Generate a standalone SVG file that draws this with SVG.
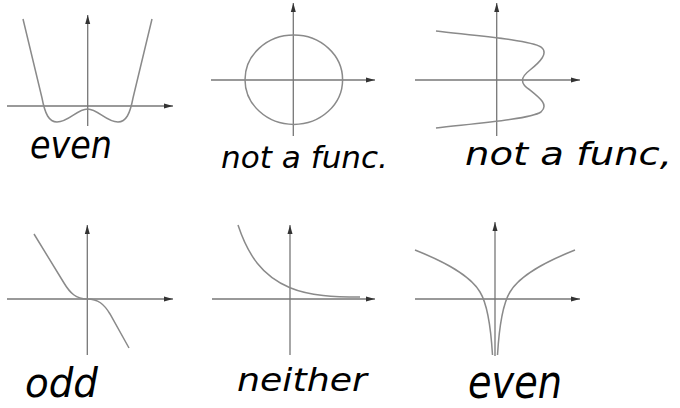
<svg xmlns="http://www.w3.org/2000/svg" width="680" height="408" viewBox="0 0 680 408">
<style>
.ax{stroke:#777;stroke-width:1.3;fill:none}
.cv{stroke:#8a8a8a;stroke-width:1.5;fill:none}
.lb{font-family:"DejaVu Sans","Liberation Sans",sans-serif;font-style:oblique;fill:#000}
</style>
<defs>
<marker id="ah" markerWidth="9" markerHeight="6" refX="9" refY="3" orient="auto" markerUnits="userSpaceOnUse">
<path d="M0,0.5 L9,3 L0,5.5 z" fill="#333"/>
</marker>
</defs>
<rect width="680" height="408" fill="#fff"/>
<g id="g1">
<line class="ax" x1="7" y1="106" x2="173" y2="106" marker-end="url(#ah)"/>
<line class="ax" x1="87.7" y1="126" x2="87.7" y2="15" marker-end="url(#ah)"/>
<path class="cv" d="M23,19 L42,98 C45,114 49,122 57,122 C69,122 77,109 87.5,109 C98,109 106,122 118,122 C126,122 130,114 133,98 L152,19"/>
<text class="lb" x="30" y="158" font-size="38" textLength="82" lengthAdjust="spacingAndGlyphs">even</text>
</g>
<g id="g2">
<line class="ax" x1="211" y1="80" x2="375" y2="80" marker-end="url(#ah)"/>
<line class="ax" x1="293.3" y1="136" x2="293.3" y2="3" marker-end="url(#ah)"/>
<ellipse class="cv" cx="293.8" cy="79.7" rx="48.8" ry="44.7"/>
<text class="lb" x="221" y="168" font-size="31" textLength="167" lengthAdjust="spacingAndGlyphs">not a func.</text>
</g>
<g id="g3">
<line class="ax" x1="415" y1="80" x2="580" y2="80" marker-end="url(#ah)"/>
<line class="ax" x1="496.7" y1="136" x2="496.7" y2="3" marker-end="url(#ah)"/>
<path class="cv" d="M436,31 C480,36 530,40 541,47 C549,53 540,62 530,70 C521,77 519,83 530,90 C540,98 549,105 541,112 C530,119 480,123 436,128"/>
<text class="lb" x="465" y="165" font-size="32" textLength="207" lengthAdjust="spacingAndGlyphs">not a func,</text>
</g>
<g id="g4">
<line class="ax" x1="7" y1="299" x2="173" y2="299" marker-end="url(#ah)"/>
<line class="ax" x1="87.3" y1="355" x2="87.3" y2="225" marker-end="url(#ah)"/>
<path class="cv" d="M34,234 L64,283 C70,293 76,299 87.3,299 C98,299 104,304 110,314 L129,348"/>
<text class="lb" x="25" y="397" font-size="40" textLength="73" lengthAdjust="spacingAndGlyphs">odd</text>
</g>
<g id="g5">
<line class="ax" x1="212" y1="299" x2="375" y2="299" marker-end="url(#ah)"/>
<line class="ax" x1="290" y1="355" x2="290" y2="225" marker-end="url(#ah)"/>
<path class="cv" d="M238,225 C248,255 262,276 290,287.7 C310,296 335,297 360,297"/>
<text class="lb" x="237" y="391" font-size="32" textLength="130" lengthAdjust="spacingAndGlyphs">neither</text>
</g>
<g id="g6">
<line class="ax" x1="415" y1="299" x2="580" y2="299" marker-end="url(#ah)"/>
<line class="ax" x1="495" y1="356" x2="495" y2="222" marker-end="url(#ah)"/>
<path class="cv" d="M415,250 C445,262 470,275 480,292 C488,305 491,330 492.5,355"/>
<path class="cv" d="M575,250 C545,262 520,275 510,292 C502,305 499,330 497.5,355"/>
<text class="lb" x="468" y="398" font-size="46" textLength="94" lengthAdjust="spacingAndGlyphs">even</text>
</g>
</svg>
